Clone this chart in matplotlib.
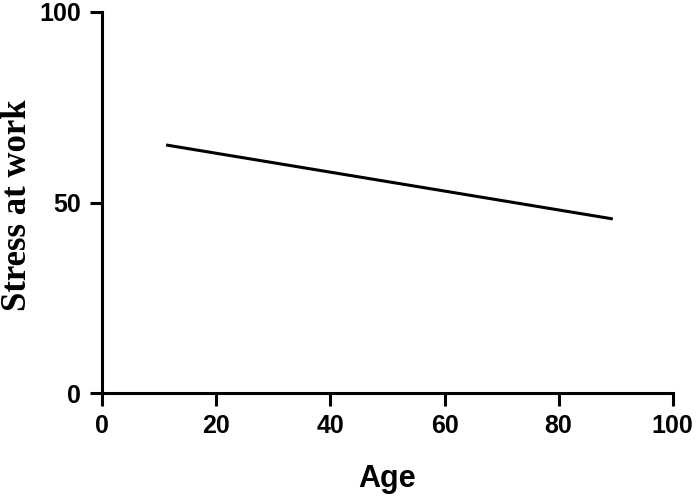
import matplotlib.pyplot as plt

age = [11.2, 89.5]
stress = [65.1, 45.7]

x_ticks = [0, 20, 40, 60, 80, 100]
y_ticks = [0, 50, 100]

fig = plt.figure(figsize=(7, 4.97), dpi=100)
ax = fig.add_axes([0.146, 0.209, 0.815, 0.767])

ax.plot(age, stress, color="black", linewidth=2.2, solid_capstyle="butt")

ax.set_xlim(0, 100)
ax.set_ylim(0, 100)
ax.set_xticks(x_ticks)
ax.set_yticks(y_ticks)

for side in ["top", "right"]:
    ax.spines[side].set_visible(False)
for side in ["left", "bottom"]:
    ax.spines[side].set_linewidth(2.2)

ax.tick_params(axis="both", direction="out", length=9, width=2.2)
ax.tick_params(axis="x", pad=6)
ax.tick_params(axis="y", pad=6)
for lbl in ax.get_xticklabels() + ax.get_yticklabels():
    lbl.set_fontfamily("Liberation Sans")
    lbl.set_fontweight("bold")
    lbl.set_fontsize(18)

ax.set_xlabel("Age", fontfamily="Liberation Sans", fontweight="bold", fontsize=22)
ax.xaxis.label.set_va("top")
ax.xaxis.set_label_coords(0.5, -0.185)

ax.set_ylabel("Stress at work", fontfamily="Liberation Serif", fontweight="bold", fontsize=25)
ax.yaxis.label.set_va("center")
ax.yaxis.set_label_coords(-0.148, 0.493)

fig.savefig("out.png", dpi=100)
